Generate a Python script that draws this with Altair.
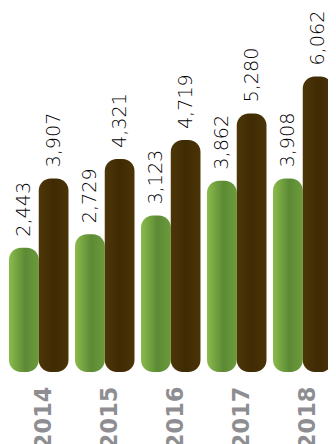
import altair as alt
import pandas as pd

years = ["2014", "2015", "2016", "2017", "2018"]
green_values = [2443, 2729, 3123, 3862, 3908]
brown_values = [3907, 4321, 4719, 5280, 6062]
series_names = ["green", "brown"]

df = pd.DataFrame({
    "year": years * 2,
    "series": [series_names[0]] * len(years) + [series_names[1]] * len(years),
    "value": green_values + brown_values,
})

x_enc = alt.X(
    "year:N",
    sort=years,
    scale=alt.Scale(range=[0, 325.5], paddingInner=0.0985, paddingOuter=0.01515),
    axis=alt.Axis(
        title=None, domain=False, ticks=False, grid=False,
        labelAngle=270, labelFontSize=22.5, labelFontWeight="bold",
        labelColor="#8e8e92", labelPadding=10, labelOffset=5, labelFont="DejaVu Sans",
    ),
)
xo_enc = alt.XOffset(
    "series:N",
    sort=series_names,
    scale=alt.Scale(domain=series_names, paddingInner=0, paddingOuter=0),
)
y_enc = alt.Y("value:Q", scale=alt.Scale(domain=[-268, 7512], nice=False, zero=False), axis=None)

green_grad = alt.Gradient(
    gradient="linear", x1=0, x2=1, y1=0, y2=0,
    stops=[
        alt.GradientStop(color="#8bbb4c", offset=0),
        alt.GradientStop(color="#5c8a35", offset=0.55),
        alt.GradientStop(color="#6b9b3c", offset=1),
    ],
)
brown_grad = alt.Gradient(
    gradient="linear", x1=0, x2=1, y1=0, y2=0,
    stops=[
        alt.GradientStop(color="#4d3607", offset=0),
        alt.GradientStop(color="#3f2a04", offset=0.5),
        alt.GradientStop(color="#4b3406", offset=1),
    ],
)

base = alt.Chart(df)

green_bars = base.transform_filter(alt.datum.series == "green").mark_bar(
    cornerRadius=12, color=green_grad
).encode(x=x_enc, xOffset=xo_enc, y=y_enc, y2=alt.datum(-184))

brown_bars = base.transform_filter(alt.datum.series == "brown").mark_bar(
    cornerRadius=12, color=brown_grad
).encode(x=x_enc, xOffset=xo_enc, y=y_enc, y2=alt.datum(-184))

labels = base.mark_text(
    angle=270, align="left", baseline="middle", dx=11,
    fontSize=19.2, font="DejaVu Sans", fontWeight=200, color="#000000",
).encode(x=x_enc, xOffset=xo_enc, y=y_enc, text=alt.Text("value:Q", format=","))

chart = alt.layer(green_bars, brown_bars, labels).properties(
    width=320, height=368,
    autosize=alt.AutoSizeParams(type="none"),
    padding={"left": 0, "top": 0, "right": 0, "bottom": 68},
).configure_view(stroke=None)

chart.save("out.html", embed_options={"renderer": "svg", "actions": False})
